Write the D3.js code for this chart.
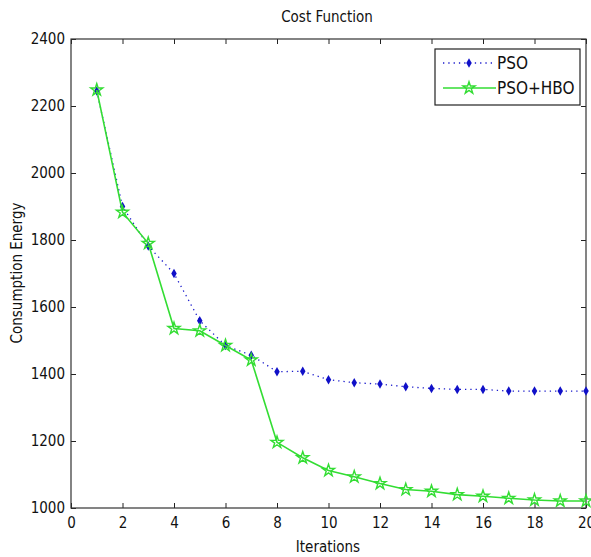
<!DOCTYPE html>
<html lang="en">
<head>
    <meta charset="UTF-8">
    <title>Cost Function</title>
    <script src="https://d3js.org/d3.v7.min.js"></script>
    <style>
        body { margin: 0; background: #fff; overflow: hidden; }
        svg { display: block; }
        text { font-family: "Liberation Sans Narrow", "DejaVu Sans Condensed", "Liberation Sans", sans-serif; fill: #111; }
        .tick text { font-size: 15px; }
    </style>
</head>
<body>
    <svg width="591" height="557"></svg>
    <script>
        // data
        const iterations = [1, 2, 3, 4, 5, 6, 7, 8, 9, 10, 11, 12, 13, 14, 15, 16, 17, 18, 19, 20];
        const pso = [2245, 1900, 1782, 1700, 1559, 1485, 1456, 1407, 1408, 1383, 1374, 1370, 1362, 1357, 1354, 1354, 1349, 1349, 1349, 1349];
        const psoHbo = [2248, 1883, 1790, 1536, 1529, 1485, 1442, 1196, 1150, 1112, 1093, 1073, 1055, 1050, 1040, 1035, 1029, 1024, 1021, 1021];
        const xTicks = [0, 2, 4, 6, 8, 10, 12, 14, 16, 18, 20];
        const yTicks = [1000, 1200, 1400, 1600, 1800, 2000, 2200, 2400];

        const plotL = 71, plotR = 586, plotT = 39, plotB = 508;
        const svg = d3.select("svg");

        const x = d3.scaleLinear().domain([0, 20]).range([plotL, plotR]);
        const y = d3.scaleLinear().domain([1000, 2400]).range([plotB, plotT]);

        // axes, ticks point inward on all sides
        const tl = 5;
        svg.append("g").attr("transform", `translate(0,${plotB})`)
            .call(d3.axisBottom(x).tickValues(xTicks).tickSize(-tl).tickPadding(9).tickFormat(d3.format("d")));
        svg.append("g").attr("transform", `translate(0,${plotT})`)
            .call(d3.axisTop(x).tickValues(xTicks).tickSize(-tl).tickFormat(""));
        svg.append("g").attr("transform", `translate(${plotL},0)`)
            .call(d3.axisLeft(y).tickValues(yTicks).tickSize(-tl).tickPadding(6).tickFormat(d3.format("d")));
        svg.append("g").attr("transform", `translate(${plotR},0)`)
            .call(d3.axisRight(y).tickValues(yTicks).tickSize(-tl).tickFormat(""));
        svg.selectAll(".domain").remove();
        svg.selectAll(".tick line").attr("stroke", "#222");
        svg.selectAll(".tick text").attr("fill", "#111");

        svg.append("rect")
            .attr("x", plotL).attr("y", plotT)
            .attr("width", plotR - plotL).attr("height", plotB - plotT)
            .attr("fill", "none").attr("stroke", "#333").attr("stroke-width", 1.2);

        const line = d3.line().x((d, i) => x(iterations[i])).y(d => y(d));

        // PSO: blue dotted with small diamonds
        svg.append("path").datum(pso)
            .attr("d", line).attr("fill", "none")
            .attr("stroke", "#1a1acc").attr("stroke-width", 1.3).attr("stroke-dasharray", "1.3,4");
        const diamond = d3.symbol().type(d3.symbolDiamond).size(26);
        svg.append("g").selectAll("path").data(pso).join("path")
            .attr("d", diamond)
            .attr("transform", (d, i) => `translate(${x(iterations[i])},${y(d)})`)
            .attr("fill", "#1010c8");

        // PSO+HBO: green solid with star outlines
        const green = "#33dd33";
        svg.append("path").datum(psoHbo)
            .attr("d", line).attr("fill", "none")
            .attr("stroke", green).attr("stroke-width", 1.6);
        const star = d3.symbol().type(d3.symbolStar).size(45);
        svg.append("g").selectAll("path").data(psoHbo).join("path")
            .attr("d", star)
            .attr("transform", (d, i) => `translate(${x(iterations[i])},${y(d)})`)
            .attr("fill", "none").attr("stroke", green).attr("stroke-width", 1.4);

        // legend
        const lg = svg.append("g");
        lg.append("rect").attr("x", 435).attr("y", 49).attr("width", 145).attr("height", 56)
            .attr("fill", "#fff").attr("stroke", "#222").attr("stroke-width", 1.2);
        lg.append("line").attr("x1", 443).attr("x2", 496).attr("y1", 63).attr("y2", 63)
            .attr("stroke", "#1a1acc").attr("stroke-width", 1.3).attr("stroke-dasharray", "1.3,4");
        lg.append("path").attr("d", diamond).attr("transform", "translate(469,63)").attr("fill", "#1010c8");
        lg.append("text").attr("x", 497).attr("y", 69).attr("font-size", 17).text("PSO");
        lg.append("line").attr("x1", 443).attr("x2", 496).attr("y1", 88).attr("y2", 88)
            .attr("stroke", green).attr("stroke-width", 1.6);
        lg.append("path").attr("d", star).attr("transform", "translate(469,88)")
            .attr("fill", "none").attr("stroke", green).attr("stroke-width", 1.4);
        lg.append("text").attr("x", 497).attr("y", 94).attr("font-size", 17).text("PSO+HBO");

        // titles
        svg.append("text").attr("x", 327).attr("y", 22).attr("text-anchor", "middle")
            .attr("font-size", 15).text("Cost Function");
        svg.append("text").attr("x", 328).attr("y", 552).attr("text-anchor", "middle")
            .attr("font-size", 15).text("Iterations");
        svg.append("text").attr("transform", "translate(22,273) rotate(-90)")
            .attr("text-anchor", "middle").attr("font-size", 15).text("Consumption Energy");
    </script>
</body>
</html>
